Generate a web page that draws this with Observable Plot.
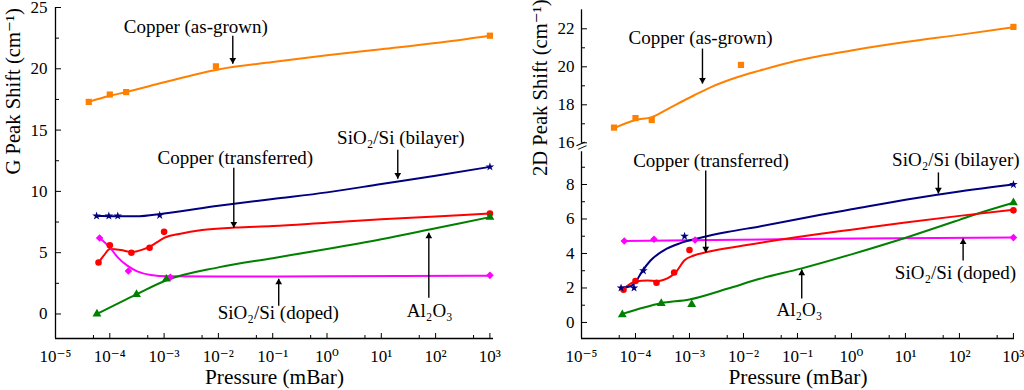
<!DOCTYPE html>
<html><head><meta charset="utf-8">
<script src="https://cdn.jsdelivr.net/npm/d3@7"></script>
<script src="https://cdn.jsdelivr.net/npm/@observablehq/plot@0.6"></script>
<style>
body{margin:0;background:#fff;}
#c{display:flex;width:1024px;height:390px;}
#c svg, #c svg text{font-family:"Liberation Serif","Times New Roman",Times,"DejaVu Serif",serif !important;}
</style></head><body><div id="c"></div><script>
// ---------- Left panel: G peak shift ----------
const gCuGrownX = [4.1e-5, 1.0e-4, 2.0e-4, 9e-3, 1e3];
const gCuGrownY = [17.3, 17.9, 18.1, 20.2, 22.7];
const gCuGrownFitX = [4.1e-5, 1e-4, 2e-4, 1e-3, 1e-2, 1e-1, 1, 10, 100, 1e3];
const gCuGrownFitY = [17.3, 17.8, 18.1, 18.9, 19.95, 20.55, 21.1, 21.6, 22.1, 22.7];

const gBiX = [5.7e-5, 9.6e-5, 1.4e-4, 8.3e-4, 1e3];
const gBiY = [8.0, 8.0, 8.0, 8.05, 12.0];
const gBiFitX = [5.7e-5, 1e-4, 3e-4, 1e-3, 1e-2, 1e-1, 1, 10, 100, 1e3];
const gBiFitY = [8.0, 7.98, 7.97, 8.2, 8.83, 9.38, 9.92, 10.6, 11.28, 12.0];

const gCuTrX = [6.2e-5, 1e-4, 2.5e-4, 5.4e-4, 1e-3, 1e3];
const gCuTrY = [4.2, 5.6, 5.0, 5.4, 6.7, 8.2];
const gCuTrFitX = [6.2e-5, 8e-5, 1e-4, 1.6e-4, 2.5e-4, 4e-4, 6e-4, 8e-4, 1e-3, 2e-3, 5e-3, 2e-2, 1e-1, 1, 10, 100, 1e3];
const gCuTrFitY = [4.2, 4.85, 5.3, 5.22, 5.05, 5.25, 5.6, 5.95, 6.2, 6.55, 6.85, 7.05, 7.17, 7.45, 7.72, 7.96, 8.2];

const gDopX = [6.5e-5, 2.2e-4, 1.3e-3, 1e3];
const gDopY = [6.2, 3.5, 3.0, 3.15];
const gDopFitX = [6.5e-5, 1e-4, 1.4e-4, 2.1e-4, 3.2e-4, 5.7e-4, 1.15e-3, 1e-2, 1, 1e3];
const gDopFitY = [6.2, 5.43, 4.62, 3.94, 3.48, 3.18, 3.07, 3.05, 3.07, 3.12];

const gAlX = [5.8e-5, 3.1e-4, 1.1e-3, 1e3];
const gAlY = [0.0, 1.6, 2.85, 7.9];
const gAlFitX = [5.8e-5, 3.1e-4, 1.1e-3, 1e-2, 1e-1, 1, 10, 100, 1e3];
const gAlFitY = [0.0, 1.6, 2.75, 3.8, 4.55, 5.3, 6.1, 7.0, 7.9];

// ---------- Right panel: 2D peak shift ----------
const dCuGrownX = [4.0e-5, 1e-4, 2e-4, 9e-3, 1e3];
const dCuGrownY = [16.8, 17.3, 17.2, 20.1, 22.1];
const dCuGrownFitX = [4e-5, 1e-4, 2e-4, 4.5e-4, 1.2e-3, 2.5e-3, 7.6e-3, 2e-2, 1e-1, 1, 10, 100, 1e3];
const dCuGrownFitY = [16.77, 17.2, 17.35, 17.87, 18.49, 18.93, 19.45, 19.8, 20.33, 20.86, 21.3, 21.68, 22.08];

const dBiX = [5.4e-5, 9.4e-5, 1.4e-4, 8.1e-4, 1e3];
const dBiY = [2.0, 2.0, 3.0, 5.0, 8.0];
const dBiFitX = [5.4e-5, 8.1e-5, 1e-4, 1.3e-4, 1.9e-4, 3.3e-4, 6.8e-4, 1.6e-3, 5e-3, 2e-2, 2.7e-1, 1, 10, 100, 1e3];
const dBiFitY = [2.0, 2.1, 2.34, 2.92, 3.59, 4.17, 4.6, 4.91, 5.24, 5.57, 6.24, 6.56, 7.12, 7.6, 8.0];

const dCuTrX = [6e-5, 1e-4, 2.45e-4, 5.2e-4, 1e-3, 1e3];
const dCuTrY = [1.9, 2.4, 2.3, 2.9, 4.2, 6.5];
const dCuTrFitX = [6e-5, 1e-4, 1.66e-4, 2.5e-4, 4.5e-4, 5.9e-4, 8e-4, 1.2e-3, 2.1e-3, 1e-2, 2.7e-1, 1, 10, 100, 1e3];
const dCuTrFitY = [1.95, 2.38, 2.43, 2.4, 2.67, 3.01, 3.59, 3.88, 4.08, 4.46, 5.14, 5.38, 5.8, 6.18, 6.53];

const dDopX = [6.2e-5, 2.2e-4, 1.27e-3, 1e3];
const dDopY = [4.72, 4.82, 4.78, 4.92];
const dDopFitX = [6.2e-5, 1e-3, 2.7e-1, 1e3];
const dDopFitY = [4.72, 4.77, 4.85, 4.93];

const dAlX = [5.7e-5, 3e-4, 1.1e-3, 1e3];
const dAlY = [0.45, 1.1, 1.05, 6.95];
const dAlFitX = [5.7e-5, 3e-4, 1e-3, 5e-3, 2e-2, 1.15e-1, 1, 8, 100, 213, 1e3];
const dAlFitY = [0.5, 1.12, 1.33, 1.95, 2.53, 3.12, 3.95, 4.81, 5.95, 6.3, 6.94];

// ---------- Ticks ----------
const xMajor = [1e-5, 1e-4, 1e-3, 1e-2, 1e-1, 1, 10, 100, 1000];
const xMinor = [5e-5, 5e-4, 5e-3, 5e-2, 5e-1, 5, 50, 500];
const gYMajor = [0, 5, 10, 15, 20, 25];
const gYMinor = [2.5, 7.5, 12.5, 17.5, 22.5];
const dYMajor = [0, 2, 4, 6, 8, 16, 18, 20, 22];
const dYMinor = [1, 3, 5, 7, 9, 17, 19, 21];

// ---------- Annotations ----------
const gLabelText = ["Copper (as-grown)", "Copper (transferred)", "SiO\u2082/Si (bilayer)", "SiO\u2082/Si (doped)", "Al\u2082O\u2083"];
const gLabelX = [3.84e-3, 0.0205, 22.9, 0.127, 78];
const gLabelY = [23.43, 12.75, 14.38, 0.1, 0.27];
const gArrowX = [0.0184, 0.0192, 20.1, 0.129, 75];
const gArrowFrom = [22.7, 11.93, 13.4, 0.68, 1.33];
const gArrowTo = [20.42, 7.04, 11.04, 2.88, 6.63];

const dLabelText = ["Copper (as-grown)", "Copper (transferred)", "SiO\u2082/Si (bilayer)", "SiO\u2082/Si (doped)", "Al\u2082O\u2083"];
const dLabelX = [1.6e-3, 2.5e-3, 85.8, 84.3, 0.109];
const dLabelY = [21.53, 9.39, 9.45, 2.9, 0.7];
const dArrowX = [1.74e-3, 2.0e-3, 40.8, 117, 0.12];
const dArrowFrom = [20.96, 8.81, 8.7, 3.59, 1.39];
const dArrowTo = [19.12, 4.06, 7.48, 4.87, 3.07];

const colors = {grown: "#ff8000", bi: "#000080", tr: "#ff0000", dop: "#ff00ff", al: "#008000"};

const rows = (xs, ys) => xs.map((x, i) => ({x, y: ys[i]}));
const supMap = {"-": "\u207B", "0": "\u2070", "1": "\u00B9", "2": "\u00B2", "3": "\u00B3", "4": "\u2074", "5": "\u2075", "6": "\u2076", "7": "\u2077", "8": "\u2078", "9": "\u2079"};
const fmtPow = d => "10" + String(Math.round(Math.log10(d))).split("").map(c => supMap[c]).join("");
const FONT = "Liberation Serif, Times New Roman, DejaVu Serif, serif";
const ANNOT_SIZE = 19;
const TITLE_SIZE = 21.3;
const YTITLE_SIZE = 20.6;
const TICK_SIZE = 17;

function seriesMarks(list) {
  const m = [];
  for (const s of list) {
    m.push(Plot.line(rows(s.fx, s.fy), {x: "x", y: "y", stroke: s.color, strokeWidth: 2, curve: "monotone-x"}));
  }
  for (const s of list) {
    m.push(Plot.dot(rows(s.px, s.py), {x: "x", y: "y", fill: s.color, stroke: "none", symbol: s.symbol, r: s.r}));
  }
  return m;
}

function annotMarks(text, lx, ly, ax, af, at) {
  const labels = text.map((t, i) => ({t, x: lx[i], y: ly[i]}));
  const arrows = ax.map((x, i) => ({x, y1: af[i], y2: at[i], down: at[i] < af[i]}));
  return [
    Plot.text(labels, {x: "x", y: "y", text: "t", fontSize: ANNOT_SIZE, fill: "black", lineAnchor: "middle"}),
    Plot.link(arrows, {x1: "x", x2: "x", y1: "y1", y2: "y2", stroke: "black", strokeWidth: 1.4}),
    Plot.dot(arrows.filter(a => a.down), {x: "x", y: "y2", symbol: "triangle", r: 2.5, fill: "black", stroke: "none", rotate: 180, dy: -3.7}),
    Plot.dot(arrows.filter(a => !a.down), {x: "x", y: "y2", symbol: "triangle", r: 2.5, fill: "black", stroke: "none", dy: 3.7})
  ];
}

function axisMarks(yMajor, yMinor, yTickPad) {
  return [
    Plot.axisX({ticks: xMajor, tickSize: 0, tickPadding: 11, tickFormat: fmtPow, fontSize: TICK_SIZE, label: null}),
    Plot.axisX({ticks: xMajor, tickSize: -5, tickFormat: () => "", label: null}),
    Plot.axisX({ticks: xMinor, tickSize: -3, tickFormat: () => "", label: null}),
    Plot.axisY({ticks: yMajor, tickSize: 0, tickPadding: yTickPad, fontSize: TICK_SIZE, label: null}),
    Plot.axisY({ticks: yMajor, tickSize: -6, tickFormat: () => "", label: null}),
    Plot.axisY({ticks: yMinor, tickSize: -4, tickFormat: () => "", label: null})
  ];
}

// ---------- Left plot ----------
const gSeries = [
  {color: colors.grown, symbol: "square", r: 3.5, px: gCuGrownX, py: gCuGrownY, fx: gCuGrownFitX, fy: gCuGrownFitY},
  {color: colors.bi, symbol: "star", r: 2.7, px: gBiX, py: gBiY, fx: gBiFitX, fy: gBiFitY},
  {color: colors.tr, symbol: "circle", r: 3.3, px: gCuTrX, py: gCuTrY, fx: gCuTrFitX, fy: gCuTrFitY},
  {color: colors.dop, symbol: "diamond2", r: 3.4, px: gDopX, py: gDopY, fx: gDopFitX, fy: gDopFitY},
  {color: colors.al, symbol: "triangle", r: 3.3, px: gAlX, py: gAlY, fx: gAlFitX, fy: gAlFitY}
];

const left = Plot.plot({
  width: 512, height: 390,
  marginLeft: 55, marginRight: 19, marginTop: 7, marginBottom: 52,
  style: {fontFamily: FONT, color: "black", background: "white"},
  x: {type: "log", domain: [1e-5, Math.pow(10, 3.066)]},
  y: {domain: [-2, 25]},
  marks: [
    Plot.ruleX([1e-5], {stroke: "black", strokeWidth: 1.3}),
    Plot.ruleY([-2], {stroke: "black", strokeWidth: 1.3}),
    ...axisMarks(gYMajor, gYMinor, 8),
    ...seriesMarks(gSeries),
    ...annotMarks(gLabelText, gLabelX, gLabelY, gArrowX, gArrowFrom, gArrowTo),
    Plot.text(["G Peak Shift (cm\u207B\u00B9)"], {frameAnchor: "left", dx: -42, dy: 1.5, rotate: -90, fontSize: YTITLE_SIZE, fill: "black", lineAnchor: "middle"}),
    Plot.text(["Pressure (mBar)"], {frameAnchor: "bottom", dy: 39, fontSize: TITLE_SIZE, fill: "black", lineAnchor: "middle"})
  ]
});

// ---------- Right plot ----------
const dSeries = [
  {color: colors.grown, symbol: "square", r: 3.5, px: dCuGrownX, py: dCuGrownY, fx: dCuGrownFitX, fy: dCuGrownFitY},
  {color: colors.dop, symbol: "diamond2", r: 3.4, px: dDopX, py: dDopY, fx: dDopFitX, fy: dDopFitY},
  {color: colors.al, symbol: "triangle", r: 3.3, px: dAlX, py: dAlY, fx: dAlFitX, fy: dAlFitY},
  {color: colors.tr, symbol: "circle", r: 3.3, px: dCuTrX, py: dCuTrY, fx: dCuTrFitX, fy: dCuTrFitY},
  {color: colors.bi, symbol: "star", r: 2.7, px: dBiX, py: dBiY, fx: dBiFitX, fy: dBiFitY}
];
const dAxisSegY1 = [-0.93, 16];
const dAxisSegY2 = [9.9, 23];

const right = Plot.plot({
  width: 512, height: 390,
  marginLeft: 69, marginRight: 10, marginTop: 9, marginBottom: 52,
  style: {fontFamily: FONT, color: "black", background: "white"},
  x: {type: "log", domain: [1e-5, Math.pow(10, 3.02)]},
  y: {type: "linear", domain: [-0.93, 10, 16, 23], range: [338, 149.5, 142.3, 9.3]},
  marks: [
    Plot.ruleX(dAxisSegY1.map((a, i) => ({y1: a, y2: dAxisSegY2[i]})), {x: 1e-5, y1: "y1", y2: "y2", stroke: "black", strokeWidth: 1.3}),
    Plot.ruleY([-0.93], {stroke: "black", strokeWidth: 1.3}),
    Plot.text(["="], {x: 1e-5, y: 13.5, rotate: -24, fontSize: 20, fill: "black", lineAnchor: "middle"}),
    ...axisMarks(dYMajor, dYMinor, 7),
    ...seriesMarks(dSeries),
    ...annotMarks(dLabelText, dLabelX, dLabelY, dArrowX, dArrowFrom, dArrowTo),
    Plot.text(["2D Peak Shift (cm\u207B\u00B9)"], {frameAnchor: "left", dx: -41, dy: 2, rotate: -90, fontSize: YTITLE_SIZE, fill: "black", lineAnchor: "middle"}),
    Plot.text(["Pressure (mBar)"], {frameAnchor: "bottom", dy: 39, fontSize: TITLE_SIZE, fill: "black", lineAnchor: "middle"})
  ]
});

document.getElementById("c").append(left, right);
</script></body></html>
